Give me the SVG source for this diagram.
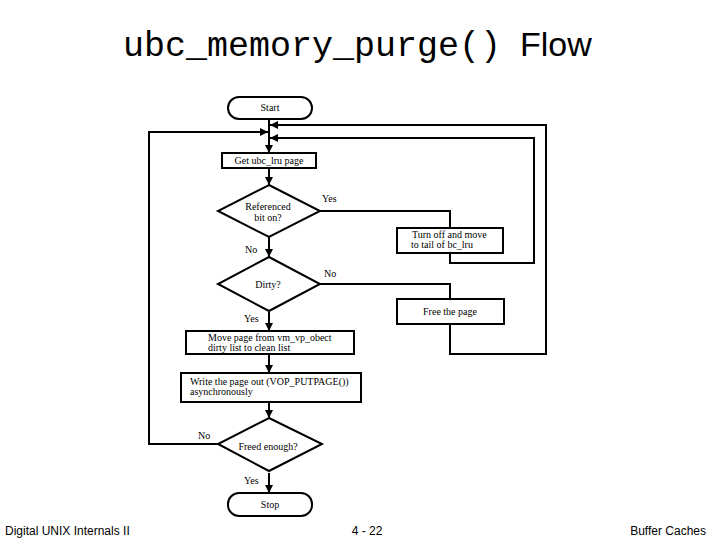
<svg xmlns="http://www.w3.org/2000/svg" width="720" height="540" viewBox="0 0 720 540">
<style>
.s{fill:#fff;stroke:#000;stroke-width:2}
.c{fill:none;stroke:#000;stroke-width:2}
.t{font-family:"Liberation Serif",serif;font-size:10px;fill:#000}
.f{font-family:"Liberation Sans",sans-serif;font-size:12px;fill:#000}
</style>
<defs><marker id="a" viewBox="0 0 10 10" refX="10" refY="5" markerWidth="4" markerHeight="4" orient="auto"><path d="M0,0L10,5L0,10z" fill="#000"/></marker></defs>
<rect width="720" height="540" fill="#fff"/>
<text x="123" y="56" font-family="Liberation Mono,monospace" font-size="35">ubc_memory_purge()</text>
<text x="520" y="56" font-family="Liberation Sans,sans-serif" font-size="34">Flow</text>
<g id="connectors">
<path class="c" d="M269,119V153" marker-end="url(#a)"/>
<path class="c" d="M269,168V185" marker-end="url(#a)"/>
<path class="c" d="M269,237V257" marker-end="url(#a)"/>
<path class="c" d="M269,312V331" marker-end="url(#a)"/>
<path class="c" d="M269,354V373" marker-end="url(#a)"/>
<path class="c" d="M269,402V418" marker-end="url(#a)"/>
<path class="c" d="M269,473V493" marker-end="url(#a)"/>
<path class="c" d="M320,211H450V228"/>
<path class="c" d="M450,253V263H534V138H270" marker-end="url(#a)"/>
<path class="c" d="M320,284H450V299"/>
<path class="c" d="M450,324V354H546V125H270" marker-end="url(#a)"/>
<path class="c" d="M218,444H149V132H268" marker-end="url(#a)"/>
</g>
<g id="start"><rect class="s" x="228" y="97" width="84" height="22" rx="11"/><text class="t" x="270" y="111" text-anchor="middle">Start</text></g>
<g id="get"><rect class="s" x="222" y="153" width="94" height="15"/><text class="t" x="269" y="164" text-anchor="middle">Get ubc_lru page</text></g>
<g id="ref"><path class="s" d="M269,185L320,211L269,237L218,211z"/><text class="t" x="268" y="210" text-anchor="middle">Referenced</text><text class="t" x="268" y="221" text-anchor="middle">bit on?</text></g>
<g id="turn"><rect class="s" x="397" y="228" width="106" height="25"/><text class="t" x="412" y="238">Turn off and move</text><text class="t" x="411" y="248">to tail of bc_lru</text></g>
<g id="dirty"><path class="s" d="M269,257L320,284L269,311L218,284z"/><text class="t" x="268" y="288" text-anchor="middle">Dirty?</text></g>
<g id="free"><rect class="s" x="397" y="299" width="107" height="25"/><text class="t" x="450" y="315" text-anchor="middle">Free the page</text></g>
<g id="move"><rect class="s" x="186" y="331" width="168" height="23"/><text class="t" x="208" y="340.5" font-size="9.5">Move page from vm_vp_obect</text><text class="t" x="208" y="351" font-size="9.5">dirty list to clean list</text></g>
<g id="write"><rect class="s" x="181" y="373" width="180" height="29"/><text class="t" x="190" y="385">Write the page out (VOP_PUTPAGE())</text><text class="t" x="190" y="395">asynchronously</text></g>
<g id="freed"><path class="s" d="M269,418L322,444L269,471L218,444z"/><text class="t" x="268" y="450" text-anchor="middle">Freed enough?</text></g>
<g id="stop"><rect class="s" x="228" y="493" width="84" height="23" rx="11"/><text class="t" x="270" y="508" text-anchor="middle">Stop</text></g>
<g id="labels">
<text class="t" x="322" y="202">Yes</text>
<text class="t" x="245" y="253">No</text>
<text class="t" x="324" y="277">No</text>
<text class="t" x="244" y="322">Yes</text>
<text class="t" x="198" y="439">No</text>
<text class="t" x="244" y="484">Yes</text>
</g>
<text class="f" x="5" y="535">Digital UNIX Internals II</text>
<text class="f" x="367" y="535" text-anchor="middle">4 - 22</text>
<text class="f" x="706" y="535" text-anchor="end">Buffer Caches</text>
</svg>
